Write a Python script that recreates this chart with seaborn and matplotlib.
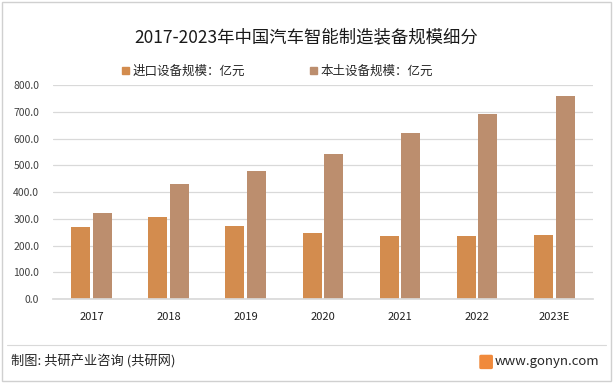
import numpy as np
import pandas as pd
import matplotlib
matplotlib.use("Agg")
import matplotlib.pyplot as plt
import seaborn as sns
from matplotlib.patches import Rectangle, FancyBboxPatch

# ── Data ─────────────────────────────────────────────────────────────────────
years = ["2017", "2018", "2019", "2020", "2021", "2022", "2023E"]
import_vals = [269, 306, 273, 247, 235, 235, 239]
local_vals = [321, 430, 478, 542, 620, 691, 759]
series_names = ["进口设备规模：亿元", "本土设备规模：亿元"]
colors = ["#D38C4E", "#BC8E6E"]

df = pd.DataFrame({
    "year": years * 2,
    "value": import_vals + local_vals,
    "series": [series_names[0]] * len(years) + [series_names[1]] * len(years),
})

sns.set_theme(style="white")
plt.rcParams["font.family"] = ["Noto Sans CJK SC", "DejaVu Sans"]

fig = plt.figure(figsize=(6.13, 3.83), dpi=100)
ax = fig.add_axes([0.0865, 0.2193, 0.8805, 0.5587])

sns.barplot(data=df, x="year", y="value", hue="series", palette=colors,
            width=0.56, gap=0.12, ax=ax, legend=False, saturation=1,
            linewidth=0, edgecolor="none")

ax.set_ylim(0, 800)
ax.set_yticks(np.arange(0, 801, 100))
ax.set_yticklabels([f"{v:.1f}" for v in np.arange(0, 801, 100)],
                   fontsize=7.5, color="#404040")
ax.set_xticklabels(years, fontsize=8, color="#202020")
ax.tick_params(axis="x", length=0, pad=9)
ax.tick_params(axis="y", length=0, pad=10)
ax.yaxis.grid(True, color="#D9D9D9", linewidth=0.9)
ax.set_axisbelow(True)
for s in ["top", "right", "left"]:
    ax.spines[s].set_visible(False)
ax.spines["bottom"].set_color("#D9D9D9")
ax.set_xlabel("")
ax.set_ylabel("")

# title and legend
fig.text(0.5, 0.902, "2017-2023年中国汽车智能制造装备规模细分",
         ha="center", va="center", fontsize=12.5, color="#1a1a1a")
for x0, name, c in [(0.199, series_names[0], colors[0]),
                    (0.506, series_names[1], colors[1])]:
    fig.patches.append(Rectangle((x0, 0.806), 0.011, 0.018,
                                 transform=fig.transFigure, color=c))
    fig.text(x0 + 0.017, 0.815, name, ha="left", va="center",
             fontsize=9, color="#262626")

# footer
fig.add_artist(plt.Line2D([0.012, 0.988], [0.1, 0.1],
                          transform=fig.transFigure, color="#D9D9D9", lw=0.8))
fig.text(0.018, 0.055, "制图: 共研产业咨询 (共研网)", ha="left", va="center",
         fontsize=9.5, color="#262626")
fig.patches.append(FancyBboxPatch((0.785, 0.04), 0.016, 0.03,
                                  boxstyle="round,pad=0.002",
                                  transform=fig.transFigure, color="#F08A3C"))
fig.text(0.977, 0.055, "www.gonyn.com", ha="right", va="center",
         fontsize=9.5, color="#262626")

# outer border
fig.patches.append(Rectangle((0.003, 0.004), 0.994, 0.992, fill=False,
                             transform=fig.transFigure, ec="#D0D0D0", lw=1))

fig.savefig("out.png", dpi=100)
